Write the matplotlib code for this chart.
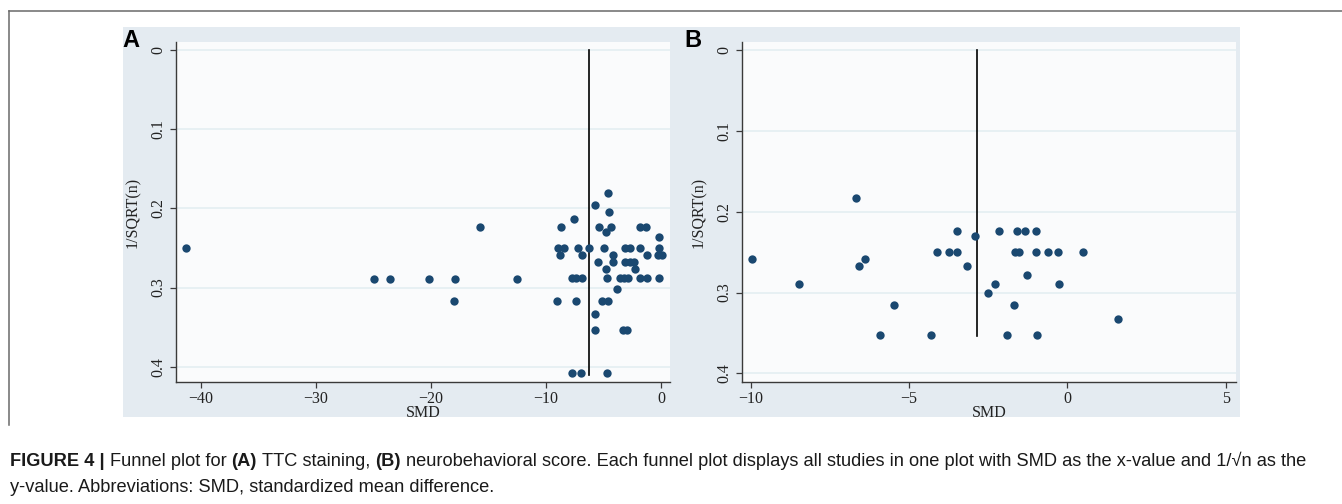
import matplotlib.pyplot as plt
import matplotlib.patches as mpatches
from matplotlib import font_manager
from matplotlib.lines import Line2D

# panel A: TTC staining
a_smd = [-41.3, -24.98, -23.53, -20.2, -17.87, -17.98, -15.7, -12.52,
         -4.57, -5.75, -4.49, -7.6, -8.67, -5.4, -4.77, -4.34, -1.79, -1.3, -0.17,
         -8.99, -8.41, -8.76, -7.2, -6.85, -6.22, -4.92, -4.14, -5.52, -4.14,
         -3.12, -2.69, -1.82, -0.17, -1.24, -0.25, 0.05,
         -3.12, -2.69, -2.31, -4.8, -2.23,
         -7.75, -7.37, -6.85, -4.71, -3.61, -3.21, -2.86, -1.82, -1.21, -0.2,
         -3.82, -9.05, -7.43, -5.15, -4.57,
         -5.78, -5.75, -3.32, -2.98,
         -7.78, -7.0, -4.74]
a_inv_sqrt_n = [0.2505, 0.289, 0.289, 0.289, 0.289, 0.3166, 0.2236, 0.289,
                0.180, 0.196, 0.204, 0.2135, 0.224, 0.224, 0.2295, 0.224, 0.224, 0.224, 0.236,
                0.250, 0.250, 0.2586, 0.250, 0.2586, 0.250, 0.250, 0.2586, 0.2674, 0.2674,
                0.250, 0.250, 0.250, 0.250, 0.2586, 0.2586, 0.2586,
                0.2674, 0.2674, 0.2674, 0.277, 0.277,
                0.288, 0.288, 0.288, 0.288, 0.288, 0.288, 0.288, 0.288, 0.288, 0.288,
                0.3015, 0.3166, 0.3166, 0.3166, 0.3166,
                0.3335, 0.3537, 0.3537, 0.3537,
                0.408, 0.408, 0.408]
a_pooled = -6.22
a_line_end = 0.41

# panel B: neurobehavioral score
b_smd = [-9.95, -8.46, -6.67, -6.58, -6.38, -5.48, -5.93, -4.31, -4.11, -3.75,
         -3.47, -3.5, -3.17, -2.91, -2.5, -2.28, -2.15, -1.9, -1.68, -1.65,
         -1.52, -1.59, -1.35, -1.27, -0.98, -1.0, -0.95, -0.61, -0.29, -0.27,
         0.48, 1.6]
b_inv_sqrt_n = [0.258, 0.289, 0.183, 0.267, 0.258, 0.316, 0.353, 0.353, 0.25, 0.25,
                0.25, 0.224, 0.267, 0.23, 0.301, 0.289, 0.224, 0.353, 0.316, 0.25,
                0.25, 0.224, 0.224, 0.278, 0.224, 0.25, 0.353, 0.25, 0.25, 0.289,
                0.25, 0.333]
b_pooled = -2.86
b_line_end = 0.354

y_ticks = [0, 0.1, 0.2, 0.3, 0.4]
y_tick_labels = ["0", "0.1", "0.2", "0.3", "0.4"]
a_x_ticks = [-40, -30, -20, -10, 0]
b_x_ticks = [-10, -5, 0, 5]

W, H = 1342, 504
BG = "#e4ebf1"
PLOT_BG = "#fafbfc"
GRID = "#e6eff3"
DOT = "#1a4870"
SERIF = "Liberation Serif"

fig = plt.figure(figsize=(W / 100, H / 100), dpi=100)


def fx(px):
    return px / W


def fy(py):
    return 1 - py / H


# outer frame (top and left edges visible)
fig.add_artist(Line2D([fx(9.3), 1], [fy(10.7), fy(10.7)], color="#6a6a6a", lw=1.1))
fig.add_artist(Line2D([fx(9.3), fx(9.3)], [fy(10.7), fy(425)], color="#6a6a6a", lw=1.1))

# panel backgrounds
fig.add_artist(mpatches.Rectangle((fx(123.3), fy(416.7)), fx(678 - 123.3), (416.7 - 26.7) / H,
                                  facecolor=BG, edgecolor="none", zorder=0))
fig.add_artist(mpatches.Rectangle((fx(678), fy(416.7)), fx(1240 - 678), (416.7 - 26.7) / H,
                                  facecolor=BG, edgecolor="none", zorder=0))


def funnel(left, right, xs, ys, pooled, line_end, xticks, xlim, ylim, letter, letter_x):
    ax = fig.add_axes([fx(left), fy(382.3), fx(right - left), (382.3 - 41.7) / H])
    ax.set_facecolor(PLOT_BG)
    ax.scatter(xs, ys, s=36, color=DOT, linewidths=0, zorder=3)
    ax.plot([pooled, pooled], [0, line_end], color="black", lw=1.2, zorder=2)
    ax.set_xlim(*xlim)
    ax.set_ylim(*ylim)
    ax.set_xticks(xticks)
    ax.set_yticks(y_ticks)
    ax.set_yticklabels(y_tick_labels, rotation=90, va="center")
    ax.grid(axis="y", color=GRID, lw=1.3, zorder=0)
    ax.set_axisbelow(True)
    for s in ("top", "right"):
        ax.spines[s].set_visible(False)
    for s in ("left", "bottom"):
        ax.spines[s].set_color("#3a3a3a")
        ax.spines[s].set_linewidth(1.0)
    ax.tick_params(axis="both", direction="out", length=4, width=0.9, color="#3a3a3a",
                   labelsize=11.5, labelcolor="#222222")
    ax.tick_params(axis="x", pad=2)
    ax.tick_params(axis="y", pad=3)
    for lab in ax.get_xticklabels() + ax.get_yticklabels():
        lab.set_fontfamily(SERIF)
    ax.set_xlabel("SMD", fontfamily=SERIF, fontsize=11.5, color="#222222", labelpad=-1)
    ax.set_ylabel("1/SQRT(n)", fontfamily=SERIF, fontsize=11.5, color="#222222")
    ax.yaxis.set_label_coords(-0.071, 0.5)
    fig.text(fx(letter_x), fy(46.7), letter, fontsize=17, fontweight="bold",
             fontfamily="Liberation Sans", va="baseline", ha="left")
    return ax


funnel(176, 670, a_smd, a_inv_sqrt_n, a_pooled, a_line_end, a_x_ticks,
       (-42.17, 0.78), (0.4196, -0.0105), "A", 122.5)
funnel(741.7, 1236, b_smd, b_inv_sqrt_n, b_pooled, b_line_end, b_x_ticks,
       (-10.28, 5.32), (0.411, -0.0103), "B", 684.5)

# caption with mixed bold / regular runs
names = {f.name for f in font_manager.fontManager.ttflist}
cap_font = "Liberation Sans Narrow" if "Liberation Sans Narrow" in names else "Liberation Sans"
cap_size = 16.1 if cap_font == "Liberation Sans Narrow" else 13.12

line1 = [("FIGURE 4 |", "bold"), ("Funnel plot for", "normal"), ("(A)", "bold"),
         ("TTC staining,", "normal"), ("(B)", "bold"),
         ("neurobehavioral score. Each funnel plot displays all studies in one plot "
          "with SMD as the x-value and 1/\u221an as the", "normal")]
line2 = [("y-value. Abbreviations: SMD, standardized mean difference.", "normal")]

renderer = fig.canvas.get_renderer()


def width_of(s, weight):
    t = fig.text(0, 0, s, fontsize=cap_size, fontfamily=cap_font, fontweight=weight)
    w = t.get_window_extent(renderer).width
    t.remove()
    return w


space_w = width_of("a a", "normal") - width_of("aa", "normal")

for runs, ypix in ((line1, 461), (line2, 488)):
    x = 10
    for s, weight in runs:
        t = fig.text(fx(x), fy(ypix), s, fontsize=cap_size, fontfamily=cap_font,
                     fontweight=weight, va="center", ha="left", color="#1a1a1a")
        x += t.get_window_extent(renderer).width + space_w

fig.savefig("out.png", dpi=100)
